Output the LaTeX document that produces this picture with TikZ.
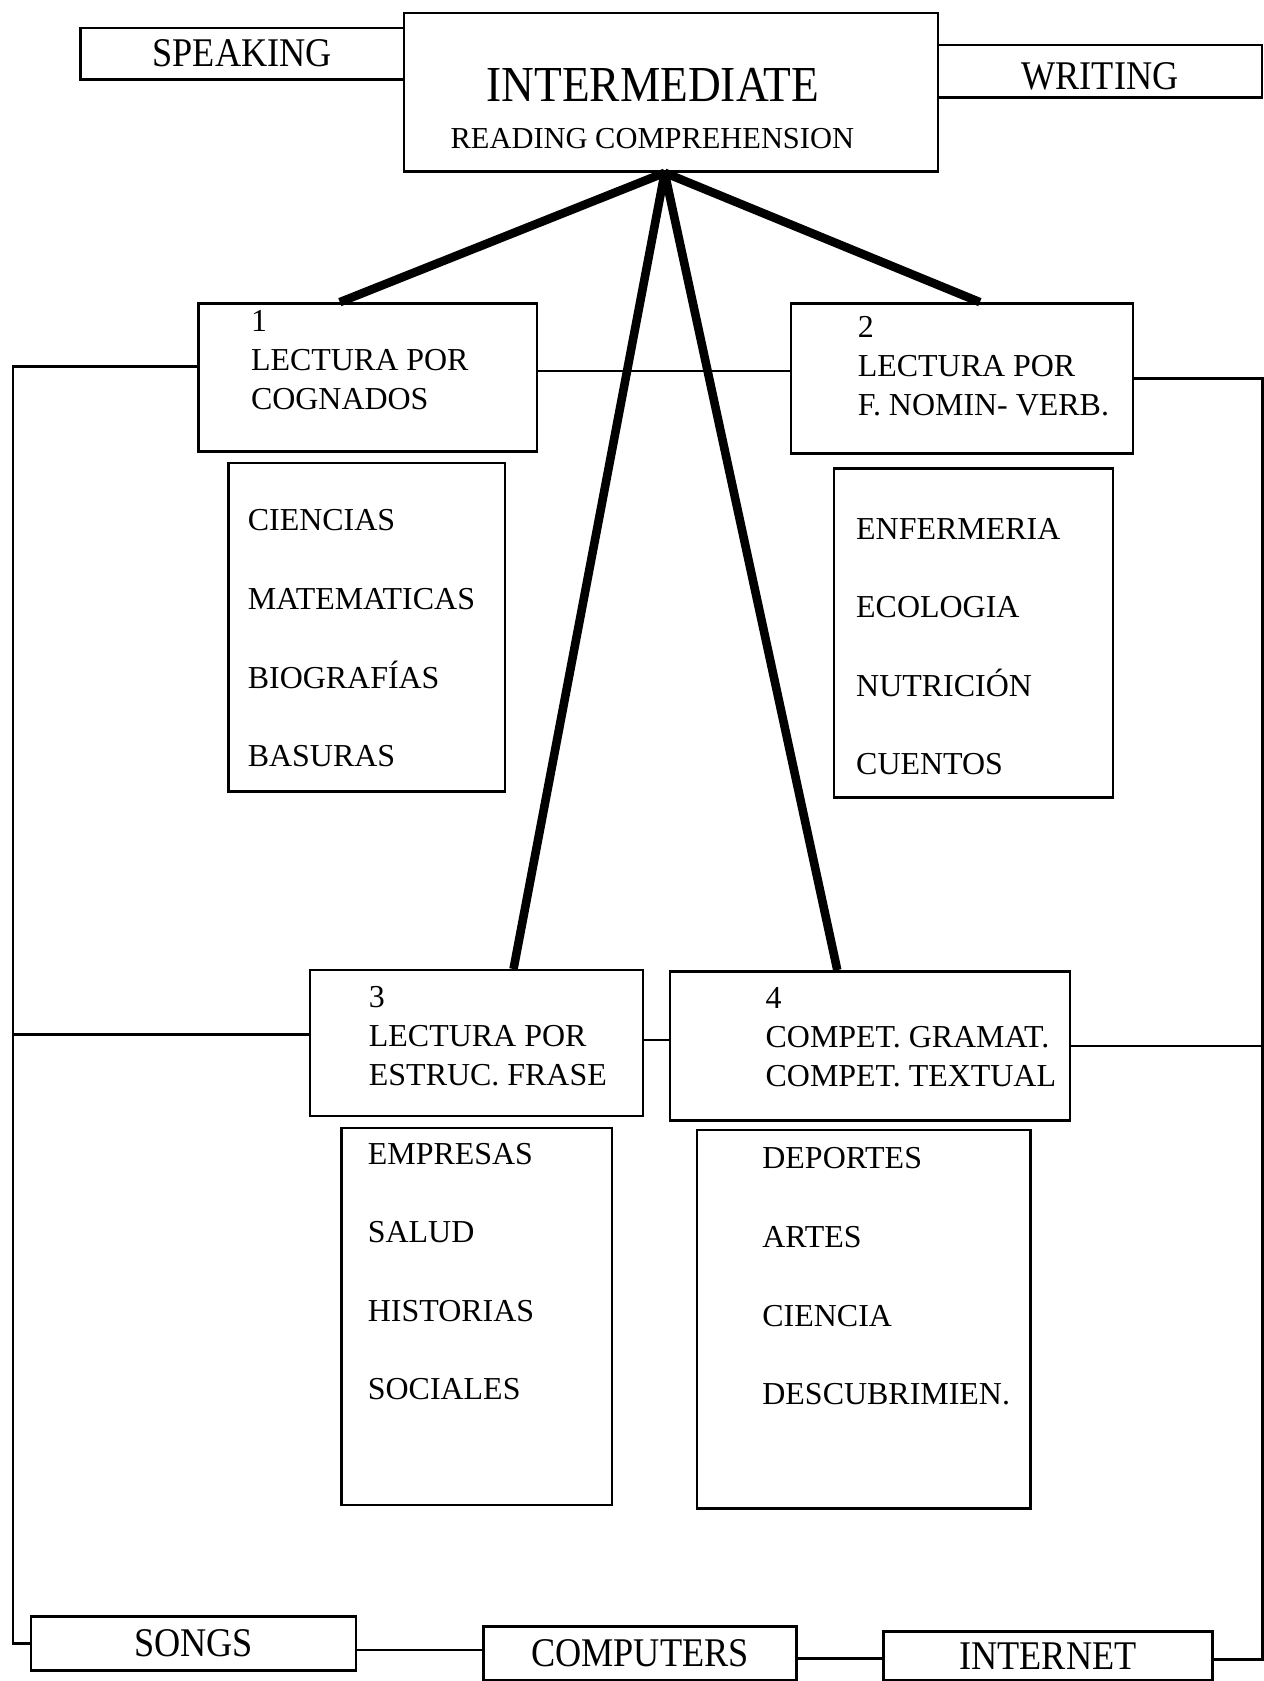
\documentclass[tikz,border=0pt]{standalone}
\usepackage{fontspec}
\setmainfont{Liberation Serif}
\usepackage{graphicx}

\tikzset{every picture/.style={line width=2.3pt}}
\tikzset{
	frm/.style={draw, rectangle, inner sep=0pt},
	bigtxt/.style={font=\fontsize{38}{44}\selectfont},
	boxtxt/.style={anchor=north west, inner sep=0pt, align=left, font=\fontsize{29.8}{36.5}\selectfont},
	listtxt/.style={anchor=north west, inner sep=0pt, align=left, font=\fontsize{29.8}{73.3}\selectfont},
	stem/.style={line width=8pt}
}
\newcommand{\condtxt}[1]{\scalebox{0.89}[1]{#1}}

\begin{document}
\begin{tikzpicture}[x=1pt,y=-1pt]
		\useasboundingbox (0,0) rectangle (1179,1568);

		%top row
		\draw (626,86) node (inter) [frm, minimum width=498pt, minimum height=148pt] {};
		\draw (226,50) node (speak) [frm, bigtxt, minimum width=302pt, minimum height=48pt] {\condtxt{SPEAKING}};
		\draw (1026,66.5) node (write) [frm, bigtxt, text height=35pt, minimum width=302pt, minimum height=49pt] {\condtxt{WRITING}};
		\draw (609,95) node (intertitle) [anchor=base, inner sep=0pt, font=\fontsize{47}{52}\selectfont] {\scalebox{0.9}[1]{INTERMEDIATE}};
		\draw (608.5,138.3) node (intersub) [anchor=base, inner sep=0pt, font=\fontsize{28.4}{34}\selectfont] {READING COMPREHENSION};

		\draw (343,352) node (box1) [frm, minimum width=316pt, minimum height=138pt] {};
		\draw (233,288) node (box1txt) [boxtxt] {1\\LECTURA POR\\COGNADOS};
		\draw (897.5,353) node (box2) [frm, minimum width=319pt, minimum height=140pt] {};
		\draw (799,294) node (box2txt) [boxtxt] {2\\LECTURA POR\\F. NOMIN- VERB.};
		\draw (444.5,973) node (box3) [frm, minimum width=311pt, minimum height=136pt] {};
		\draw (343,919) node (box3txt) [boxtxt] {3\\LECTURA POR\\ESTRUC. FRASE};
		\draw (811.5,975.5) node (box4) [frm, minimum width=373pt, minimum height=139pt] {};
		\draw (713,920) node (box4txt) [boxtxt] {4\\COMPET. GRAMAT.\\COMPET. TEXTUAL};

		\draw (342,585.25) node (list1) [frm, minimum width=258pt, minimum height=306.5pt] {};
		\draw (230,474.4) node (list1txt) [listtxt] {CIENCIAS\\MATEMATICAS\\BIOGRAFÍAS\\BASURAS};
		\draw (908,590.5) node (list2) [frm, minimum width=260pt, minimum height=307pt] {};
		\draw (797.5,482) node (list2txt) [listtxt] {ENFERMERIA\\ECOLOGIA\\NUTRICIÓN\\CUENTOS};
		\draw (444.75,1228) node (list3) [frm, minimum width=252.5pt, minimum height=352pt] {};
		\draw (342,1065) node (list3txt) [listtxt] {EMPRESAS\\SALUD\\HISTORIAS\\SOCIALES};
		\draw (805.5,1230.5) node (list4) [frm, minimum width=311pt, minimum height=353pt] {};
		\draw (710,1069.5) node (list4txt) [listtxt] {DEPORTES\\ARTES\\CIENCIA\\DESCUBRIMIEN.};

		\draw (180.5,1533) node (songs) [frm, bigtxt, minimum width=303pt, minimum height=50pt] {\condtxt{SONGS}};
		\draw (597,1542) node (computers) [frm, bigtxt, minimum width=292pt, minimum height=50pt] {\condtxt{COMPUTERS}};
		\draw (977.5,1544.5) node (internet) [frm, bigtxt, minimum width=307pt, minimum height=45pt] {\condtxt{INTERNET}};

		\draw [stem] ([xshift=-6pt]inter.south) -- ([xshift=-26pt]box1.north);
		\draw [stem] ([xshift=-6pt]inter.south) -- ([xshift=16.5pt]box2.north);
		\draw [stem] ([xshift=-6pt]inter.south) -- ([xshift=34.5pt]box3.north);
		\draw [stem] ([xshift=-6pt]inter.south) -- ([xshift=-30.5pt]box4.north);

		\coordinate (lx) at (12,0);
		\coordinate (rbot) at (1177.5,1548);
		\coordinate (b1l) at ([yshift=10pt]box1.west);
		\coordinate (b1r) at ([yshift=6pt]box1.east);
		\coordinate (b3l) at ([yshift=8pt]box3.west);
		\coordinate (b3r) at ([yshift=3pt]box3.east);
		\coordinate (s1) at ([yshift=-6pt]songs.east);
		\coordinate (c1) at ([yshift=-5pt]computers.east);

		\draw (b1l) -| (lx |- songs.west) -- (songs.west);
		\draw (b3l) -- (b3l -| lx);
		\draw (b1r) -- (b1r -| box2.west);
		\draw (b3r) -- (b3r -| box4.west);
		\draw (box2.east) -| (rbot) -- (rbot -| internet.east);
		\draw (box4.east) -- (box4.east -| rbot);
		\draw (s1) -- (s1 -| computers.west);
		\draw (c1) -- (c1 -| internet.west);

\end{tikzpicture}
\end{document}
